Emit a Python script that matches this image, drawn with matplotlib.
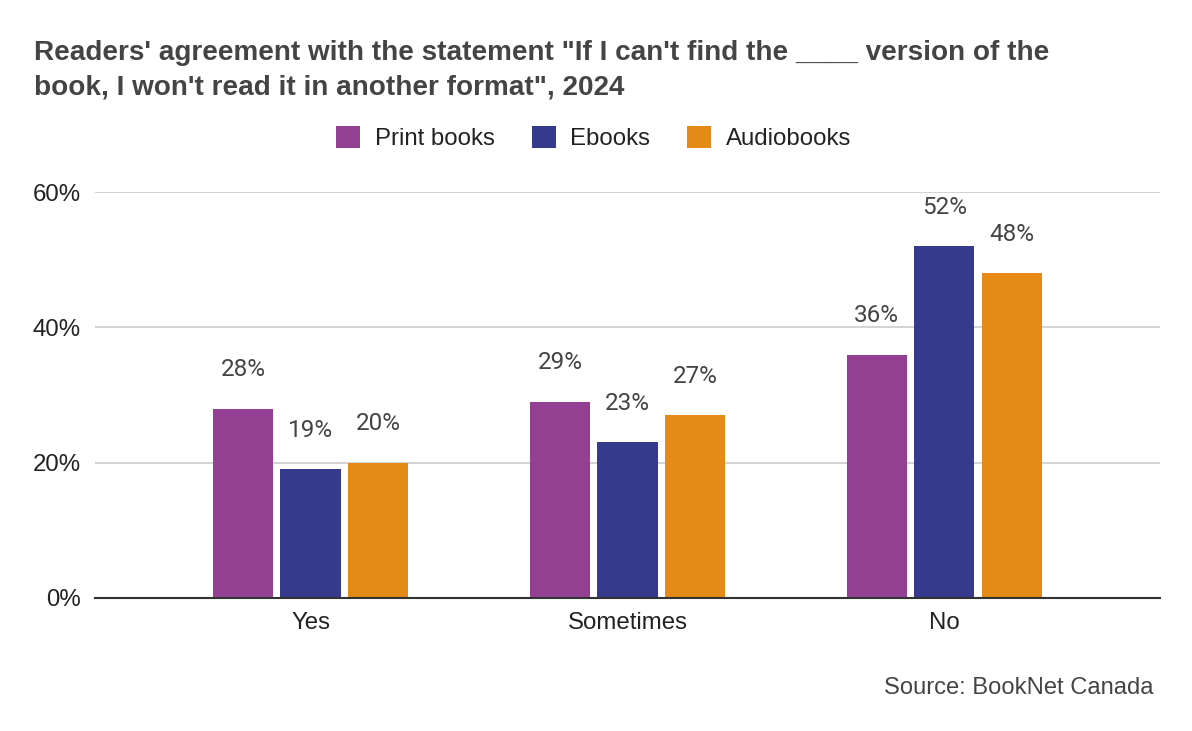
import matplotlib
matplotlib.use("Agg")
import matplotlib.pyplot as plt
import numpy as np

categories = ["Yes", "Sometimes", "No"]
series_names = ["Print books", "Ebooks", "Audiobooks"]
print_books = [28, 29, 36]
ebooks = [19, 23, 52]
audiobooks = [20, 27, 48]
yticks = [0, 20, 40, 60]
colors = ["#934093", "#353a8c", "#e58a17"]

fig = plt.figure(figsize=(11.92, 7.31), dpi=100)
ax = fig.add_axes([0.0797, 0.182, 0.8933, 0.555])

x = np.arange(len(categories))
step = 0.213
width = 0.19
for i, (vals, name, c) in enumerate(zip([print_books, ebooks, audiobooks], series_names, colors)):
    pos = x + (i - 1) * step
    ax.bar(pos, vals, width=width, color=c, label=name, zorder=3)
    for p, v in zip(pos, vals):
        ax.annotate(f"{v}%", (p, v), xytext=(0, 20), textcoords="offset points",
                    ha="center", va="bottom", fontsize=17.5, color="#444444",
                    family="Roboto")

ax.set_xlim(-0.68, 2.68)
ax.set_ylim(0, 60)
ax.set_yticks(yticks)
ax.set_yticklabels([f"{t}%" for t in yticks])
ax.set_xticks(x)
ax.set_xticklabels(categories)
ax.tick_params(axis="both", length=0, labelsize=17.3, labelcolor="#222222", pad=10)
for lab in ax.get_xticklabels() + ax.get_yticklabels():
    lab.set_family("Liberation Sans")
ax.grid(axis="y", color="#cccccc", linewidth=1.2, zorder=0)
for s in ["top", "right", "left"]:
    ax.spines[s].set_visible(False)
ax.spines["bottom"].set_color("#333333")
ax.spines["bottom"].set_linewidth(1.5)
ax.spines["bottom"].set_zorder(4)

fig.text(34 / 1192, 1 - 70.5 / 731,
         "Readers' agreement with the statement \"If I can't find the ____ version of the\nbook, I won't read it in another format\", 2024",
         ha="left", va="center", fontsize=20.1, fontweight="bold", color="#444444",
         family="Liberation Sans", linespacing=1.42)

leg = fig.legend(loc="center", bbox_to_anchor=(0.498, 1 - 138 / 731), ncol=3, frameon=False,
                 handlelength=1.0, handleheight=1.0, handletextpad=0.6,
                 columnspacing=1.55, prop={"family": "Liberation Sans", "size": 17.3})
for t in leg.get_texts():
    t.set_color("#222222")

fig.text(1153 / 1192, 1 - 688 / 731, "Source: BookNet Canada", ha="right", va="center",
         fontsize=17.1, color="#444444", family="Liberation Sans")

fig.savefig("out.png", dpi=100, facecolor="white")
